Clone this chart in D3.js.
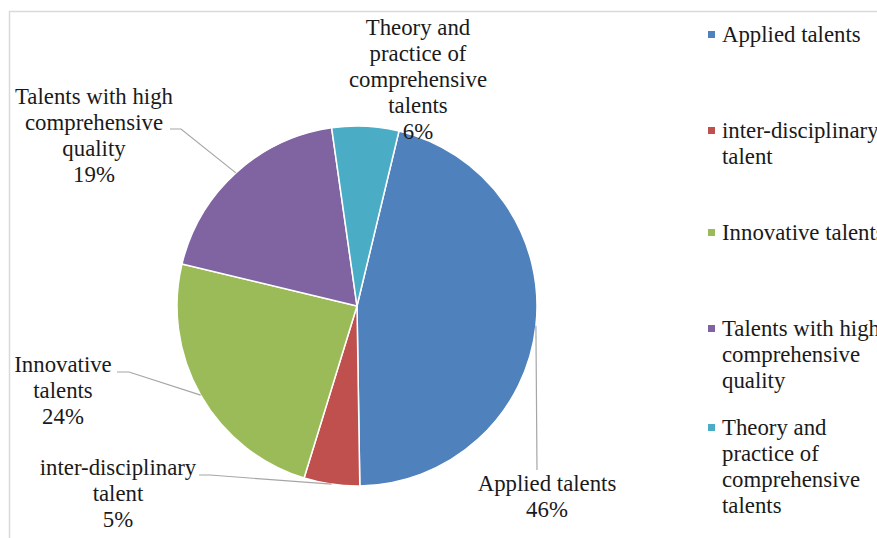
<!DOCTYPE html>
<html>
<head>
<meta charset="utf-8">
<script src="https://cdn.jsdelivr.net/npm/d3@7"></script>
</head>
<body style="margin:0">
<svg id="chart" width="877" height="538"></svg>
<script>
// Talent types and their shares (%)
const categories = [
  "Applied talents",
  "inter-disciplinary talent",
  "Innovative talents",
  "Talents with high comprehensive quality",
  "Theory and practice of comprehensive talents"
];
const shares = [46, 5, 24, 19, 6];
const colors = ["#4F81BD", "#C0504D", "#9BBB59", "#8064A2", "#4BACC6"];

// Wrapped text lines for data labels and legend entries
const labelLines = [
  ["Applied talents"],
  ["inter-disciplinary", "talent"],
  ["Innovative", "talents"],
  ["Talents with high", "comprehensive", "quality"],
  ["Theory and", "practice of", "comprehensive", "talents"]
];
const legendLines = [
  ["Applied talents"],
  ["inter-disciplinary", "talent"],
  ["Innovative talents"],
  ["Talents with high", "comprehensive", "quality"],
  ["Theory and", "practice of", "comprehensive", "talents"]
];

const svg = d3.select("#chart");
const W = 877, H = 538;
const lineH = 26;

// chart area frame
svg.append("path")
  .attr("d", `M9.5,${H} V11.5 H${W}`)
  .attr("fill", "none").attr("stroke", "#d9d9d9").attr("stroke-width", 1.5);

const cx = 357, cy = 306, R = 180;
const rot = 13.5 * Math.PI / 180;

const pie = d3.pie().sort(null).value(d => d)
  .startAngle(rot).endAngle(rot + 2 * Math.PI);
const arcs = pie(shares);
const arc = d3.arc().innerRadius(0).outerRadius(R);

const g = svg.append("g").attr("transform", `translate(${cx},${cy})`);
g.selectAll("path.slice").data(arcs).join("path")
  .attr("class", "slice")
  .attr("d", arc)
  .attr("fill", (d, i) => colors[i])
  .attr("stroke", "#fff").attr("stroke-width", 1.5);

// point on the rim at a slice's mid-angle
function rim(d) {
  const a = (d.startAngle + d.endAngle) / 2;
  return [cx + R * Math.sin(a), cy - R * Math.cos(a)];
}

// label placement: centre x, first baseline y, leader-line path after the rim point
const labelLayout = [
  { x: 547, y: 491, leader: [[537, 470]] },
  { x: 118, y: 475, leader: [[210, 475], [199, 475]] },
  { x: 63,  y: 372, leader: [[129, 372], [117, 372]] },
  { x: 94,  y: 104, leader: [[181, 129], [170, 129]] },
  { x: 418, y: 35,  leader: null }
];

// one text element per line
function addLine(x, y, s, anchor) {
  svg.append("text")
    .attr("x", x).attr("y", y)
    .attr("text-anchor", anchor)
    .attr("fill", "#1a1a1a")
    .style("font-family", '"Liberation Serif"')
    .style("font-size", "22.8px")
    .text(s);
}

arcs.forEach((d, i) => {
  const L = labelLayout[i];
  if (L.leader) {
    svg.append("path")
      .attr("d", d3.line()([rim(d), ...L.leader]))
      .attr("fill", "none").attr("stroke", "#a6a6a6").attr("stroke-width", 1.2);
  }
  labelLines[i].concat([shares[i] + "%"]).forEach((s, k) => {
    addLine(L.x, L.y + k * lineH, s, "middle");
  });
});

// legend
const legendX = 708, legendTextX = 722;
const legendY = [42, 138, 240, 336, 435];
categories.forEach((c, i) => {
  const y0 = legendY[i];
  svg.append("rect")
    .attr("x", legendX).attr("y", y0 - 11)
    .attr("width", 7).attr("height", 7)
    .attr("fill", colors[i]);
  legendLines[i].forEach((s, k) => {
    addLine(legendTextX, y0 + k * lineH, s, "start");
  });
});
</script>
</body>
</html>
